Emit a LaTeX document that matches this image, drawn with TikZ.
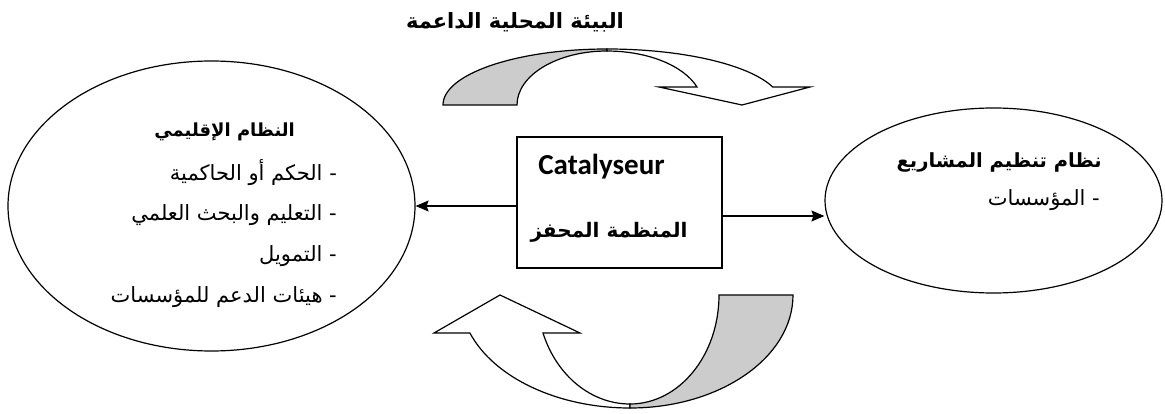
\documentclass[tikz,border=0pt]{standalone}
\usepackage{fontspec}
\setmainfont{Liberation Sans}
\newfontfamily\arabicfont[Script=Arabic]{DejaVu Sans}
\newfontfamily\latinbold{Carlito}
\TeXXeTstate=1
\usetikzlibrary{shapes.geometric,arrows.meta}
\definecolor{bandgray}{RGB}{204,204,204}

\tikzset{
  outline/.style={draw=black, line width=1.2pt},
  sysellipse/.style={outline, ellipse, inner sep=0pt},
  catbox/.style={outline, rectangle, inner sep=0pt},
  link/.style={line width=1.3pt, -{Stealth[length=13pt,width=11pt,inset=2pt]}},
  band/.style={outline, line join=miter, fill=#1},
  artext/.style={font=\arabicfont\fontsize{21}{25}\selectfont, inner sep=0pt},
  arhead/.style={font=\arabicfont\bfseries\fontsize{#1}{#1}\selectfont, inner sep=0pt},
}

\begin{document}
\begin{tikzpicture}[x=1pt,y=-1pt]
  \fill[white] (0,0) rectangle (1165,414);
  \useasboundingbox (0,0) rectangle (1165,414);

  % the three systems
  \node[sysellipse, minimum width=407pt, minimum height=290pt] (regional) at (211.5,206) {};
  \node[sysellipse, minimum width=337pt, minimum height=185pt] (projects) at (993.5,200.5) {};
  \node[catbox, minimum width=205pt, minimum height=131pt] (catalyst) at (619.5,202.5) {};

  % texts of the regional system
  \node[arhead=18, anchor=east] (regtitle) at (295,132) {\beginR النظام الإقليمي\endR};
  \node[artext, anchor=east] (reg1) at (337,173) {\beginR - الحكم أو الحاكمية\endR};
  \node[artext, anchor=east] (reg2) at (337,215) {\beginR - التعليم والبحث العلمي\endR};
  \node[artext, anchor=east] (reg3) at (337,256) {\beginR - التمويل\endR};
  \node[artext, anchor=east] (reg4) at (337,297) {\beginR - هيئات الدعم للمؤسسات\endR};

  % texts of the project system
  \node[arhead=19.5, anchor=east] (projtitle) at (1102,162) {\beginR نظام تنظيم المشاريع\endR};
  \node[artext, anchor=east] (proj1) at (1100,200) {\beginR - المؤسسات\endR};

  % catalyst box texts
  \node[font=\latinbold\bfseries\fontsize{29}{32}\selectfont, inner sep=0pt] (catlatin) at (601.5,167) {Catalyseur};
  \node[arhead=20] (catarabic) at (609,232) {\beginR المنظمة المحفز\endR};

  % supporting environment label
  \node[arhead=21] (envtitle) at (515,22) {\beginR البيئة المحلية الداعمة\endR};

  % links from the catalyst
  \draw[link] (catalyst.west |- regional.east) -- (regional.east);
  \draw[link] ([yshift=-13.5pt]catalyst.east) -- ([yshift=-13.5pt]catalyst.east -| projects.west);

  % upper curved arrow: shaded back part
  \draw[band=bandgray] (443,105) arc[start angle=180, end angle=270, x radius=164, y radius=56]
    -- (607,51) arc[start angle=270, end angle=180, x radius=90, y radius=54] -- cycle;
  % upper curved arrow: front part with head
  \draw[band=white] (607,49) arc[start angle=270, end angle=341.3, x radius=175, y radius=56]
    -- (810,87) -- (742,105) -- (659,87) -- (697,87)
    arc[start angle=340.5, end angle=270, x radius=95.4, y radius=54] -- cycle;

  % lower curved arrow: front part with head
  \draw[band=white] (630,408) arc[start angle=90, end angle=160.35, x radius=170, y radius=113]
    -- (434,333) -- (500,295) -- (580,333) -- (543,333)
    arc[start angle=159.6, end angle=90, x radius=92.8, y radius=109] -- cycle;
  % lower curved arrow: shaded back part
  \draw[band=bandgray] (793,295) arc[start angle=0, end angle=90, x radius=163, y radius=113]
    -- (630,404) arc[start angle=90, end angle=0, x radius=89, y radius=109] -- cycle;
\end{tikzpicture}
\end{document}
